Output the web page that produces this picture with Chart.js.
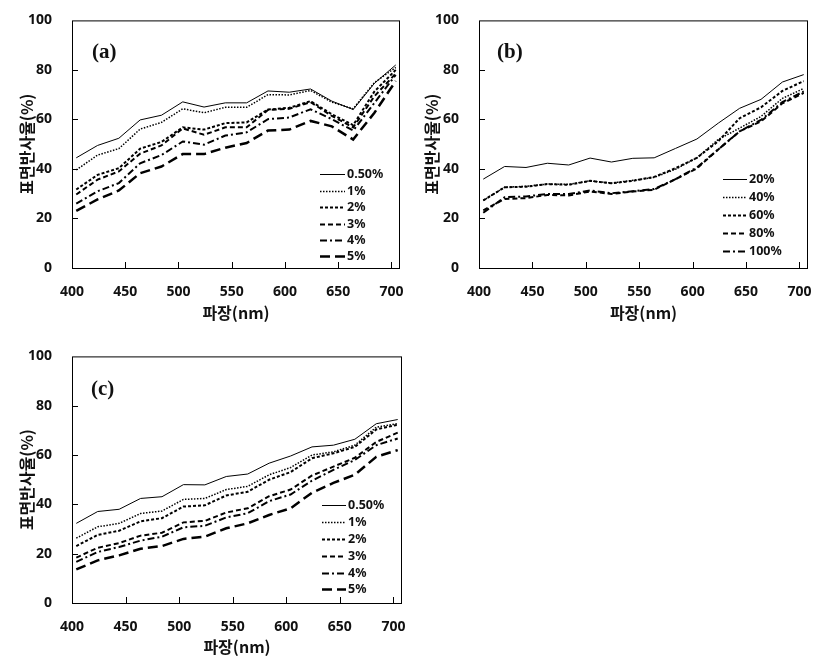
<!DOCTYPE html>
<html>
<head>
<meta charset="utf-8">
<script src="https://cdn.jsdelivr.net/npm/chart.js@4.4.0/dist/chart.umd.min.js"></script>
<style>
html, body { margin: 0; padding: 0; background: #fff; }
.panel { position: absolute; }
</style>
</head>
<body>
<div class="panel" style="left:0;top:0"><canvas id="chartA" width="415" height="330"></canvas></div>
<div class="panel" style="left:410px;top:0"><canvas id="chartB" width="415" height="330"></canvas></div>
<div class="panel" style="left:0;top:336px"><canvas id="chartC" width="415" height="328"></canvas></div>
<script>
// Shared axes
const wavelengths = [404, 424, 444, 464, 484, 504, 524, 544, 564, 584, 604, 624, 644, 664, 684, 704];
const xTicks = [400, 450, 500, 550, 600, 650, 700];
const yTicks = [0, 20, 40, 60, 80, 100];
const xTitle = '파장(nm)';
const yTitle = '표면반사율(%)';

// (a)
const labelsA = ['0.50%', '1%', '2%', '3%', '4%', '5%'];
const a1 = [44.5, 49.5, 52.4, 59.8, 61.7, 67.1, 65.0, 66.7, 66.7, 71.5, 71.0, 72.3, 67.4, 64.0, 74.6, 82.0];
const a2 = [39.6, 45.6, 48.2, 56.1, 58.8, 64.3, 62.7, 64.9, 64.9, 70.0, 69.9, 71.7, 67.0, 64.3, 74.9, 81.0];
const a3 = [31.7, 37.6, 40.3, 48.2, 50.9, 56.8, 55.9, 58.5, 58.8, 64.0, 64.7, 67.4, 62.1, 57.7, 71.3, 80.0];
const a4 = [29.7, 35.7, 39.0, 46.2, 49.5, 56.4, 53.8, 56.8, 56.8, 63.8, 64.3, 67.0, 61.4, 56.8, 69.4, 78.5];
const a5 = [26.0, 31.0, 34.3, 42.3, 45.6, 51.1, 49.8, 53.5, 54.8, 60.1, 60.8, 64.1, 60.1, 55.5, 66.7, 78.0];
const a6 = [23.1, 27.7, 31.3, 38.3, 41.0, 46.0, 46.0, 48.6, 50.5, 55.5, 55.9, 59.4, 57.2, 51.9, 62.7, 75.5];

// (b)
const labelsB = ['20%', '40%', '60%', '80%', '100%'];
const b1 = [35.9, 41.0, 40.6, 42.3, 41.6, 44.4, 42.8, 44.3, 44.5, 48.3, 52.1, 58.5, 64.5, 68.1, 75.1, 78.1];
const b2 = [27.3, 32.6, 33.0, 33.9, 33.8, 35.2, 34.3, 35.4, 36.6, 39.9, 44.5, 51.9, 56.5, 61.2, 68.5, 72.5];
const b3 = [27.3, 32.6, 32.8, 33.9, 33.6, 35.2, 34.2, 35.2, 36.8, 40.3, 44.5, 51.2, 60.5, 64.9, 71.5, 75.5];
const b4 = [23.3, 27.9, 28.2, 29.5, 29.3, 30.9, 29.9, 30.9, 31.6, 35.9, 40.2, 47.9, 55.2, 59.2, 66.5, 70.7];
const b5 = [22.3, 28.6, 28.9, 29.9, 29.9, 31.3, 30.2, 31.0, 31.9, 35.9, 40.6, 47.9, 55.2, 59.8, 67.0, 71.3];

// (c)
const labelsC = ['0.50%', '1%', '2%', '3%', '4%', '5%'];
const c1 = [32.3, 37.1, 38.0, 42.4, 43.1, 48.0, 47.9, 51.3, 52.3, 56.7, 59.6, 63.3, 64.0, 66.4, 72.7, 74.4];
const c2 = [26.3, 30.9, 32.3, 36.3, 37.3, 42.0, 42.4, 46.0, 47.3, 52.0, 54.9, 60.0, 61.3, 64.0, 71.3, 72.7];
const c3 = [23.1, 27.6, 29.3, 33.1, 34.4, 39.1, 39.6, 43.6, 45.1, 50.0, 53.1, 58.7, 60.7, 63.3, 70.4, 72.3];
const c4 = [18.4, 22.4, 24.3, 27.3, 28.5, 32.7, 33.3, 36.7, 38.4, 43.3, 46.0, 51.7, 55.3, 58.9, 65.3, 69.1];
const c5 = [16.7, 20.7, 22.7, 25.3, 26.9, 30.7, 31.3, 34.7, 36.4, 41.3, 44.0, 49.6, 54.0, 58.0, 64.0, 66.7];
const c6 = [13.6, 17.3, 19.3, 22.0, 23.1, 26.0, 26.9, 30.3, 32.3, 35.7, 38.4, 44.7, 48.7, 52.0, 59.3, 62.0];

// line styles: solid, dotted, short dash, dash, dash-dot, long dash
const styles = [
    { borderWidth: 1, borderDash: [] },
    { borderWidth: 1.5, borderDash: [1.5, 1.5] },
    { borderWidth: 2, borderDash: [3, 2] },
    { borderWidth: 2, borderDash: [5, 3] },
    { borderWidth: 2, borderDash: [7, 3, 2, 3] },
    { borderWidth: 2.5, borderDash: [10, 5] }
];

const ink = '#111';
const tickFont = { family: '"Noto Sans", sans-serif', size: 14, weight: 'bold' };
const titleFont = { family: '"Noto Sans CJK KR", sans-serif', size: 16, weight: 'bold' };

// frame, inside ticks, panel tag and legend
const framePlugin = {
    id: 'framePlugin',
    afterDraw(chart, args, opts) {
        const { ctx, chartArea, scales } = chart;
        const { left, right, top, bottom } = chartArea;
        ctx.save();
        ctx.strokeStyle = '#000';
        ctx.lineWidth = 1;
        ctx.setLineDash([]);
        ctx.strokeRect(left + 0.5, top + 0.5, right - left - 1, bottom - top);

        ctx.beginPath();
        scales.x.ticks.forEach(t => {
            const px = Math.round(scales.x.getPixelForValue(t.value)) + 0.5;
            if (px > left + 2 && px < right - 2) {
                ctx.moveTo(px, bottom);
                ctx.lineTo(px, bottom - 6);
            }
        });
        scales.y.ticks.forEach(t => {
            const py = Math.round(scales.y.getPixelForValue(t.value)) + 0.5;
            if (py > top + 2 && py < bottom - 2) {
                ctx.moveTo(left, py);
                ctx.lineTo(left + 6, py);
            }
        });
        ctx.stroke();

        ctx.fillStyle = ink;
        ctx.font = 'bold 21px "Liberation Serif", serif';
        ctx.textBaseline = 'middle';
        ctx.textAlign = 'left';
        ctx.fillText(opts.tag, left + opts.tagX, top + opts.tagY);

        ctx.strokeStyle = '#000';
        ctx.font = 'bold 12.5px "Noto Sans", sans-serif';
        chart.data.datasets.forEach((ds, i) => {
            const yy = Math.round(top + opts.legY + i * opts.legStep) + 0.5;
            const x0 = right - opts.legX;
            ctx.lineWidth = ds.borderWidth;
            ctx.setLineDash(ds.borderDash);
            ctx.beginPath();
            ctx.moveTo(x0, yy);
            ctx.lineTo(x0 + opts.legLen, yy);
            ctx.stroke();
            ctx.setLineDash([]);
            ctx.fillText(ds.label, x0 + opts.legLen + 2, yy);
        });
        ctx.restore();
    }
};

function makeDatasets(labels, series) {
    return labels.map((lab, i) => ({
        label: lab,
        data: wavelengths.map((w, j) => ({ x: w, y: series[i][j] })),
        borderColor: '#000',
        borderWidth: styles[i].borderWidth,
        borderDash: styles[i].borderDash,
        pointRadius: 0,
        tension: 0,
        fill: false
    }));
}

function makeChart(id, labels, series, box) {
    return new Chart(document.getElementById(id).getContext('2d'), {
        type: 'line',
        data: { datasets: makeDatasets(labels, series) },
        options: {
            responsive: false,
            animation: false,
            devicePixelRatio: 1,
            layout: { padding: { top: box.padTop, right: box.padRight, left: 0, bottom: 0 } },
            plugins: {
                legend: { display: false },
                tooltip: { enabled: false },
                framePlugin: box.legend
            },
            scales: {
                x: {
                    type: 'linear',
                    min: 400,
                    max: 708,
                    afterBuildTicks: s => { s.ticks = xTicks.map(v => ({ value: v })); },
                    afterFit: s => { s.height = box.xHeight; },
                    grid: { display: false },
                    border: { display: false },
                    ticks: { color: ink, font: tickFont, padding: 8, maxRotation: 0 },
                    title: { display: true, text: xTitle, color: ink, font: titleFont, padding: { top: 0, bottom: 7 } }
                },
                y: {
                    min: 0,
                    max: 100,
                    afterBuildTicks: s => { s.ticks = yTicks.map(v => ({ value: v })); },
                    afterFit: s => { s.width = box.yWidth; },
                    grid: { display: false },
                    border: { display: false },
                    ticks: { color: ink, font: tickFont, padding: 12 },
                    title: { display: true, text: yTitle, color: ink, font: titleFont, padding: { top: box.yTitlePad, bottom: 0 } }
                }
            }
        },
        plugins: [framePlugin]
    });
}

makeChart('chartA', labelsA, [a1, a2, a3, a4, a5, a6], {
    padTop: 16, padRight: 15, xHeight: 62, yWidth: 72, yTitlePad: 17,
    legend: { tag: '(a)', tagX: 20, tagY: 32, legX: 80, legY: 154, legStep: 16.4, legLen: 25 }
});

makeChart('chartB', labelsB, [b1, b2, b3, b4, b5], {
    padTop: 16, padRight: 17, xHeight: 62, yWidth: 69, yTitlePad: 12,
    legend: { tag: '(b)', tagX: 18, tagY: 32, legX: 85, legY: 159, legStep: 17.9, legLen: 24 }
});

makeChart('chartC', labelsC, [c1, c2, c3, c4, c5, c6], {
    padTop: 18, padRight: 13, xHeight: 61, yWidth: 72, yTitlePad: 17,
    legend: { tag: '(c)', tagX: 19, tagY: 33, legX: 80, legY: 149, legStep: 16.8, legLen: 24 }
});
</script>
</body>
</html>
